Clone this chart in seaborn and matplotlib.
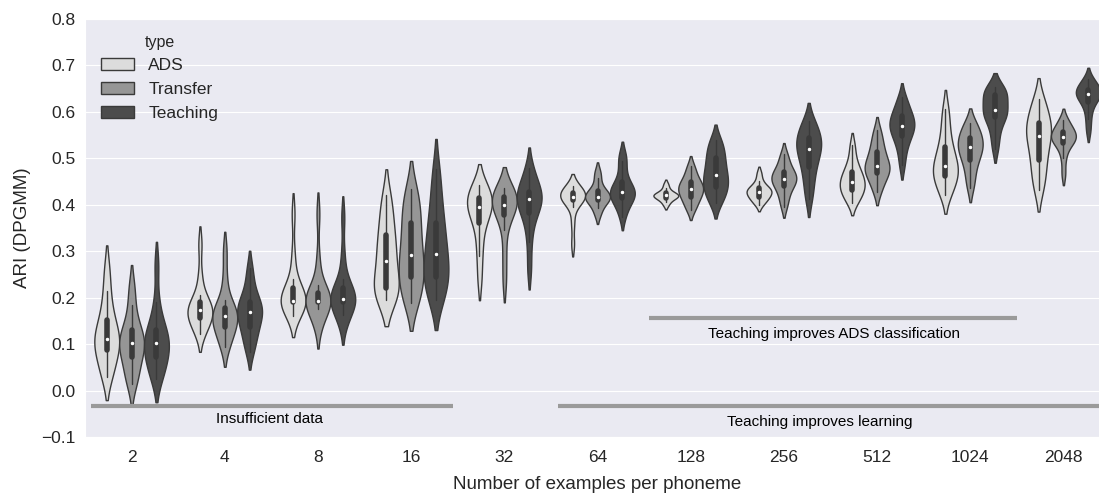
import numpy as np
import pandas as pd
import matplotlib
matplotlib.use("Agg")
import matplotlib.pyplot as plt
import seaborn as sns

# ── data (13 values per violin, sorted:
#    index 3 = Q1, index 6 = median, index 9 = Q3, ends = tails) ──
N_EXAMPLES = ['2', '4', '8', '16', '32', '64', '128', '256', '512', '1024', '2048']
TYPES = ['ADS', 'Transfer', 'Teaching']

ADS = [
    [0.030, 0.045, 0.065, 0.087, 0.095, 0.103, 0.111, 0.122, 0.138, 0.152, 0.180, 0.215, 0.262],
    [0.122, 0.135, 0.146, 0.156, 0.162, 0.168, 0.173, 0.178, 0.184, 0.190, 0.205, 0.245, 0.315],
    [0.160, 0.172, 0.183, 0.191, 0.192, 0.193, 0.193, 0.200, 0.210, 0.221, 0.240, 0.290, 0.380],
    [0.195, 0.205, 0.213, 0.221, 0.235, 0.255, 0.279, 0.295, 0.315, 0.335, 0.360, 0.390, 0.420],
    [0.240, 0.290, 0.325, 0.361, 0.375, 0.386, 0.395, 0.402, 0.409, 0.415, 0.425, 0.435, 0.442],
    [0.315, 0.360, 0.395, 0.411, 0.413, 0.415, 0.417, 0.419, 0.422, 0.425, 0.430, 0.437, 0.440],
    [0.399, 0.407, 0.411, 0.415, 0.417, 0.419, 0.420, 0.421, 0.423, 0.425, 0.429, 0.436, 0.445],
    [0.400, 0.408, 0.413, 0.417, 0.421, 0.425, 0.428, 0.431, 0.434, 0.436, 0.442, 0.452, 0.468],
    [0.404, 0.415, 0.424, 0.432, 0.437, 0.443, 0.449, 0.456, 0.464, 0.471, 0.482, 0.500, 0.528],
    [0.422, 0.437, 0.450, 0.462, 0.470, 0.477, 0.484, 0.495, 0.510, 0.524, 0.545, 0.575, 0.606],
    [0.431, 0.455, 0.477, 0.497, 0.515, 0.533, 0.548, 0.557, 0.566, 0.576, 0.592, 0.610, 0.627],
]
TRANSFER = [
    [0.015, 0.030, 0.050, 0.072, 0.082, 0.092, 0.102, 0.110, 0.120, 0.130, 0.150, 0.185, 0.225],
    [0.093, 0.110, 0.125, 0.137, 0.145, 0.153, 0.161, 0.167, 0.173, 0.178, 0.195, 0.240, 0.300],
    [0.137, 0.160, 0.176, 0.190, 0.191, 0.192, 0.193, 0.198, 0.204, 0.210, 0.228, 0.280, 0.380],
    [0.189, 0.205, 0.225, 0.245, 0.260, 0.276, 0.292, 0.315, 0.340, 0.361, 0.385, 0.410, 0.434],
    [0.235, 0.290, 0.345, 0.378, 0.387, 0.394, 0.400, 0.406, 0.412, 0.417, 0.425, 0.432, 0.436],
    [0.378, 0.392, 0.402, 0.410, 0.413, 0.415, 0.417, 0.421, 0.426, 0.430, 0.440, 0.458, 0.472],
    [0.388, 0.400, 0.410, 0.417, 0.424, 0.429, 0.434, 0.439, 0.444, 0.449, 0.458, 0.470, 0.484],
    [0.396, 0.414, 0.428, 0.440, 0.446, 0.451, 0.456, 0.461, 0.466, 0.471, 0.480, 0.495, 0.509],
    [0.428, 0.445, 0.458, 0.469, 0.474, 0.478, 0.483, 0.492, 0.502, 0.513, 0.525, 0.542, 0.560],
    [0.437, 0.460, 0.480, 0.497, 0.506, 0.515, 0.524, 0.531, 0.538, 0.544, 0.555, 0.567, 0.576],
    [0.466, 0.500, 0.522, 0.533, 0.538, 0.542, 0.546, 0.549, 0.553, 0.557, 0.565, 0.575, 0.583],
]
TEACHING = [
    [0.025, 0.040, 0.055, 0.072, 0.082, 0.092, 0.102, 0.112, 0.121, 0.130, 0.150, 0.190, 0.270],
    [0.083, 0.105, 0.122, 0.137, 0.148, 0.160, 0.169, 0.176, 0.183, 0.190, 0.205, 0.230, 0.263],
    [0.144, 0.163, 0.178, 0.190, 0.192, 0.195, 0.197, 0.205, 0.213, 0.220, 0.240, 0.290, 0.373],
    [0.196, 0.212, 0.230, 0.245, 0.260, 0.277, 0.293, 0.315, 0.340, 0.361, 0.390, 0.430, 0.476],
    [0.262, 0.320, 0.360, 0.382, 0.395, 0.404, 0.412, 0.418, 0.423, 0.428, 0.440, 0.460, 0.479],
    [0.374, 0.395, 0.407, 0.415, 0.420, 0.424, 0.428, 0.433, 0.440, 0.449, 0.470, 0.495, 0.507],
    [0.403, 0.418, 0.428, 0.438, 0.447, 0.455, 0.464, 0.475, 0.488, 0.500, 0.512, 0.527, 0.540],
    [0.412, 0.440, 0.463, 0.482, 0.497, 0.510, 0.520, 0.528, 0.536, 0.544, 0.555, 0.568, 0.581],
    [0.485, 0.515, 0.533, 0.548, 0.556, 0.563, 0.570, 0.577, 0.584, 0.591, 0.600, 0.615, 0.631],
    [0.521, 0.548, 0.570, 0.588, 0.593, 0.598, 0.604, 0.615, 0.627, 0.637, 0.643, 0.648, 0.653],
    [0.559, 0.585, 0.606, 0.621, 0.628, 0.634, 0.639, 0.642, 0.645, 0.647, 0.655, 0.663, 0.671],
]

COLORS = ['#dcdcdc', '#969696', '#4c4c4c']

# annotation bars: (label, x start, x end, bar y, text x, text y) in category units
ANNOTATIONS = [
    ('Insufficient data', -0.44, 3.45, -0.033, 1.48, -0.062),
    ('Teaching improves learning', 4.58, 11.0, -0.033, 7.39, -0.067),
    ('Teaching improves ADS classification', 5.55, 9.50, 0.156, 7.54, 0.122),
]


def build_frame():
    rows = []
    for t, series in zip(TYPES, [ADS, TRANSFER, TEACHING]):
        for n, vals in zip(N_EXAMPLES, series):
            for v in vals:
                rows.append((n, t, v))
    return pd.DataFrame(rows, columns=['n', 'type', 'ari'])


def main():
    sns.set_style('darkgrid')
    plt.rcParams['font.family'] = ['Liberation Sans', 'DejaVu Sans']

    df = build_frame()

    fig = plt.figure(figsize=(10.99, 4.94), dpi=100)
    ax = fig.add_axes([85 / 1099, 1 - 437 / 494, 1025 / 1099, 418 / 494])

    sns.violinplot(
        data=df, x='n', y='ari', hue='type', order=N_EXAMPLES, hue_order=TYPES,
        palette=COLORS, saturation=1, density_norm='width', inner='box',
        cut=1.5, bw_adjust=0.85, linewidth=1, linecolor='#3a3a3a',
        inner_kws=dict(box_width=4, whis_width=1, marker='.'), ax=ax,
    )

    for label, x0, x1, yb, xt, yt in ANNOTATIONS:
        ax.plot([x0, x1], [yb, yb], color='#9a9a9a', lw=3, solid_capstyle='butt', zorder=1)
        ax.text(xt, yt, label, ha='center', va='center', fontsize=11, color='black')

    ax.set_xlim(-0.5, 10.5)
    ax.set_ylim(-0.1, 0.8)
    ax.grid(False, axis='x')
    ax.tick_params(labelsize=12.5)
    ax.tick_params(axis='x', pad=6)
    ax.set_xlabel('Number of examples per phoneme', fontsize=13.5, labelpad=8)
    ax.set_ylabel('ARI (DPGMM)', fontsize=13.5, labelpad=7)

    handles, labels = ax.get_legend_handles_labels()
    ax.legend(handles, labels, title='type', loc='upper left', frameon=False,
              fontsize=12.5, title_fontsize=11.5, handlelength=1.95,
              bbox_to_anchor=(0.0, 1.0))

    fig.savefig('out.png', dpi=100)
    plt.close(fig)


if __name__ == '__main__':
    main()
